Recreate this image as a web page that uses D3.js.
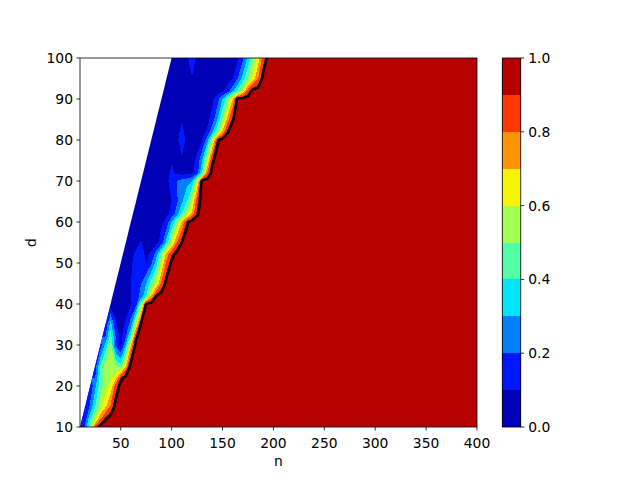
<!DOCTYPE html>
<html><head><meta charset="utf-8">
<script src="https://cdn.jsdelivr.net/npm/d3@7"></script>
<style>body{margin:0;background:#fff} text{font-family:"DejaVu Sans",sans-serif;font-size:13.89px;fill:#000}</style>
</head><body><svg id="c" width="640" height="480"></svg>
<script>
// ---------- data ----------
const levels  = [0, 0.1, 0.2, 0.3, 0.4, 0.5, 0.6, 0.7, 0.8, 0.9, 1.0];
const xTicks  = [50, 100, 150, 200, 250, 300, 350, 400];
const yTicks  = [10, 20, 30, 40, 50, 60, 70, 80, 90, 100];
const cbTicks = [0, 0.2, 0.4, 0.6, 0.8, 1.0];
const nMin = 10, nMax = 400, nStep = 5;
const dRows = [10,12,15,20,22,25,30,32,35,40,42,45,50,52,55,60,62,65,70,72,75,80,82,85,90,92,95,100];
// values per d row, at n = first multiple of 5 >= d, step 5, until the all-red (1.0) region
const row10  = [0.05,0.22,0.5,0.86,1];
const row12  = [0.15,0.38,0.58,0.78,0.94,1];
const row15  = [0.08,0.22,0.4,0.56,0.68,0.82,1];
const row20  = [0.12,0.28,0.46,0.55,0.62,0.85,1];
const row22  = [0.2,0.45,0.55,0.58,0.66,0.9,1];
const row25  = [0.15,0.4,0.55,0.57,0.5,0.42,0.68,1];
const row30  = [0.15,0.33,0.52,0.18,0.07,0.3,0.7,1];
const row32  = [0.2,0.45,0.2,0.06,0.2,0.45,0.93,1];
const row35  = [0.1,0.35,0.12,0.06,0.12,0.25,0.6,0.98,1];
const row40  = [0.05,0.05,0.05,0.05,0.09,0.15,0.5,0.96,1];
const row42  = [0.05,0.05,0.06,0.1,0.17,0.22,0.4,0.7,0.95,1];
const row45  = [0.05,0.05,0.05,0.1,0.17,0.2,0.3,0.45,0.6,0.82,1];
const row50  = [0.05,0.05,0.08,0.15,0.16,0.1,0.18,0.35,0.6,0.83,0.97,1];
const row52  = [0.05,0.06,0.13,0.14,0.08,0.12,0.27,0.5,0.75,0.9,1];
const row55  = [0.05,0.05,0.05,0.11,0.05,0.05,0.07,0.15,0.35,0.58,0.8,0.95,1];
const row60  = [0.05,0.05,0.05,0.05,0.05,0.05,0.08,0.13,0.3,0.5,0.7,0.93,1];
const row62  = [0.05,0.05,0.05,0.05,0.05,0.05,0.08,0.13,0.25,0.4,0.55,0.72,0.93,1];
const row65  = [0.05,0.05,0.05,0.05,0.05,0.05,0.05,0.1,0.18,0.28,0.4,0.58,0.88,1];
const row70  = [0.05,0.05,0.05,0.05,0.05,0.07,0.15,0.2,0.24,0.26,0.3,0.6,1];
const row72  = [0.05,0.05,0.05,0.05,0.06,0.12,0.08,0.06,0.06,0.08,0.15,0.4,0.8,1];
const row75  = [0.05,0.05,0.05,0.05,0.05,0.09,0.05,0.08,0.05,0.07,0.12,0.3,0.6,0.93,1];
const row80  = [0.05,0.05,0.05,0.05,0.05,0.06,0.18,0.06,0.05,0.06,0.1,0.25,0.55,0.93,1];
const row82  = [0.05,0.05,0.05,0.05,0.05,0.14,0.05,0.05,0.05,0.07,0.12,0.28,0.48,0.72,0.94,1];
const row85  = [0.05,0.05,0.05,0.05,0.05,0.09,0.05,0.05,0.05,0.05,0.07,0.14,0.3,0.5,0.75,0.94,1];
const row90  = [0.05,0.05,0.05,0.05,0.05,0.05,0.05,0.05,0.05,0.05,0.08,0.16,0.3,0.48,0.7,1];
const row92  = [0.05,0.05,0.05,0.05,0.05,0.05,0.05,0.05,0.05,0.05,0.05,0.08,0.15,0.27,0.42,0.6,0.85,1];
const row95  = [0.05,0.05,0.05,0.05,0.05,0.09,0.05,0.05,0.05,0.05,0.05,0.05,0.06,0.1,0.2,0.34,0.5,0.64,0.8,1];
const row100 = [0.05,0.05,0.05,0.07,0.19,0.07,0.05,0.05,0.05,0.05,0.05,0.05,0.06,0.09,0.18,0.32,0.48,0.65,0.85,1];
const rows = [row10,row12,row15,row20,row22,row25,row30,row32,row35,row40,row42,row45,row50,row52,row55,
              row60,row62,row65,row70,row72,row75,row80,row82,row85,row90,row92,row95,row100];
const lineLevel = 0.95;

// ---------- style ----------
const bandColors = ["#0000b6","#0018ff","#0080ff","#00e4f8","#53ffa4","#a4ff53","#f8f500","#ff9400","#ff3800","#b60000"];
const L = 80, R = 477, T = 58, B = 427;

const svg = d3.select("#c");
const xS = d3.scaleLinear().domain([nMin, nMax]).range([L, R]);
const yS = d3.scaleLinear().domain([10, 100]).range([B, T]);

// grid
const nGrid = d3.range(nMin, nMax + 1, nStep);
const nx = nGrid.length, ny = dRows.length;
const grid = new Array(nx * ny);
rows.forEach((r, j) => {
  const start = Math.ceil(dRows[j] / nStep) * nStep;
  const i0 = (start - nMin) / nStep;
  for (let i = 0; i < nx; i++) {
    let v;
    if (i < i0) v = r[0];              // hidden (n < d) region, clipped away
    else if (i - i0 < r.length) v = r[i - i0];
    else v = 1;                         // all-red region
    grid[j * nx + i] = v;
  }
});
const idxToD = d3.scaleLinear().domain(d3.range(ny)).range(dRows);
const proj = d3.geoTransform({ point: function (x, y) {
  this.stream.point(xS(nMin + (x - 0.5) * nStep), yS(idxToD(y - 0.5)));
}});
const path = d3.geoPath(proj);

const defs = svg.append("defs");
defs.append("clipPath").attr("id", "dataClip").append("path")
  .attr("d", d3.line().x(p => xS(p[0])).y(p => yS(p[1]))([[10,10],[400,10],[400,100],[100,100]]) + "Z");
defs.append("clipPath").attr("id", "plotClip").append("rect")
  .attr("x", L).attr("y", T).attr("width", R - L).attr("height", B - T);

const bands = d3.contours().size([nx, ny]).thresholds(levels.slice(0, 10))(grid);
svg.append("g").attr("clip-path", "url(#dataClip)")
  .selectAll("path").data(bands).join("path")
  .attr("d", path).attr("fill", (d, i) => bandColors[i])
  .attr("shape-rendering", "crispEdges");

const lineC = d3.contours().size([nx, ny]).thresholds([lineLevel])(grid);
svg.append("g").attr("clip-path", "url(#plotClip)")
  .selectAll("path").data(lineC).join("path")
  .attr("d", path).attr("fill", "none").attr("stroke", "#000")
  .attr("stroke-width", 2.5).attr("stroke-linejoin", "round");

// axes frame
svg.append("rect").attr("x", L).attr("y", T).attr("width", R - L).attr("height", B - T)
  .attr("fill", "none").attr("stroke", "#000").attr("stroke-width", 0.8);

// x ticks
const gx = svg.append("g");
xTicks.forEach(t => {
  const x = xS(t);
  gx.append("line").attr("x1", x).attr("x2", x).attr("y1", B).attr("y2", B + 3.5)
    .attr("stroke", "#000").attr("stroke-width", 0.8);
  gx.append("text").attr("x", x).attr("y", B + 21).attr("text-anchor", "middle").text(t);
});
svg.append("text").attr("x", (L + R) / 2).attr("y", 465.5).attr("text-anchor", "middle").text("n");

// y ticks
const gy = svg.append("g");
yTicks.forEach(t => {
  const y = yS(t);
  gy.append("line").attr("x1", L - 3.5).attr("x2", L).attr("y1", y).attr("y2", y)
    .attr("stroke", "#000").attr("stroke-width", 0.8);
  gy.append("text").attr("x", L - 7).attr("y", y + 5).attr("text-anchor", "end").text(t);
});
svg.append("text").attr("transform", `translate(36,${(T + B) / 2}) rotate(-90)`)
  .attr("text-anchor", "middle").text("d");

// colorbar
const cbX = 502.3, cbW = 18.45;
const cS = d3.scaleLinear().domain([0, 1]).range([B, T]);
const gc = svg.append("g");
gc.selectAll("rect.b").data(d3.range(10)).join("rect")
  .attr("x", cbX).attr("width", cbW)
  .attr("y", i => cS(levels[i + 1])).attr("height", i => cS(levels[i]) - cS(levels[i + 1]))
  .attr("fill", i => bandColors[i]).attr("shape-rendering", "crispEdges");
gc.append("rect").attr("x", cbX).attr("y", T).attr("width", cbW).attr("height", B - T)
  .attr("fill", "none").attr("stroke", "#000").attr("stroke-width", 0.8);
cbTicks.forEach(t => {
  const y = cS(t);
  gc.append("line").attr("x1", cbX + cbW).attr("x2", cbX + cbW + 3.5).attr("y1", y).attr("y2", y)
    .attr("stroke", "#000").attr("stroke-width", 0.8);
  gc.append("text").attr("x", cbX + cbW + 7.5).attr("y", y + 5).text(t.toFixed(1));
});
</script></body></html>
